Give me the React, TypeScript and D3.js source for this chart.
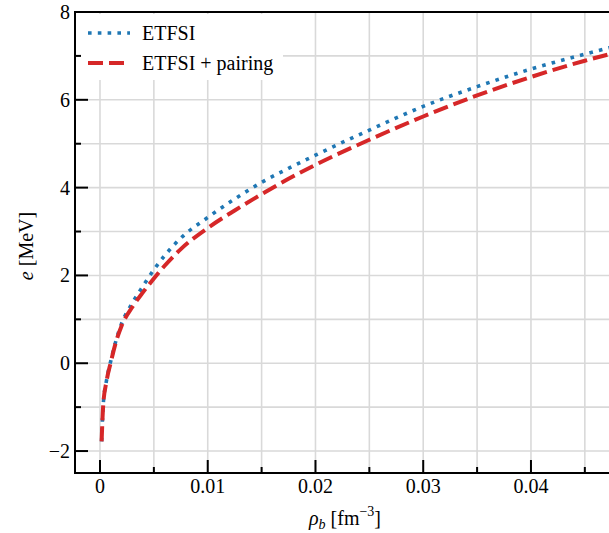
import React from 'react';
import * as d3 from 'd3';

// baryon density rho_b [fm^-3]
const rho = [0.00015, 0.0003, 0.0006, 0.001, 0.0015, 0.002, 0.003, 0.004, 0.005, 0.006, 0.0075, 0.01, 0.0125, 0.015, 0.0175, 0.02, 0.025, 0.03, 0.035, 0.04, 0.045, 0.0478];
// energy per nucleon e [MeV]
const eEtfsi = [-1.78, -0.94, -0.40, 0.05, 0.53, 0.90, 1.37, 1.76, 2.13, 2.45, 2.85, 3.32, 3.74, 4.12, 4.44, 4.74, 5.31, 5.85, 6.30, 6.70, 7.04, 7.22];
const eEtfsiPairing = [-1.78, -0.95, -0.42, 0.02, 0.50, 0.85, 1.28, 1.62, 1.93, 2.22, 2.60, 3.08, 3.48, 3.85, 4.20, 4.52, 5.09, 5.62, 6.10, 6.52, 6.89, 7.07];

const xMajor = [0, 0.01, 0.02, 0.03, 0.04];
const xMinor = [0.005, 0.015, 0.025, 0.035, 0.045];
const yMajor = [-2, 0, 2, 4, 6, 8];
const yMinor = [-1, 1, 3, 5, 7];

const W = 609;
const H = 533;
const FONT = "'Liberation Serif', 'Times New Roman', Times, Tinos, 'Nimbus Roman', 'Nimbus Roman No9 L', FreeSerif, 'Noto Serif', 'DejaVu Serif', Georgia, serif";

const App = () => {
  const left = 75, right = 615, top = 12, bottom = 473;

  const x = d3.scaleLinear().domain([-0.00232, 0.0478]).range([left, right]);
  const y = d3.scaleLinear().domain([-2.5, 8]).range([bottom, top]);

  const line = d3.line<number>()
    .x((_, i) => x(rho[i]))
    .y(d => y(d))
    .curve(d3.curveMonotoneX);

  const fmt = (v: number) => (v < 0 ? '\u2212' + Math.abs(v) : String(v));
  const ts = { fontFamily: FONT };

  return (
    <svg width={W} height={H} style={{ position: 'absolute', left: 0, top: 0, background: '#fff', fontFamily: FONT }}>
      <defs>
        <clipPath id="plotArea">
          <rect x={left} y={top} width={right - left} height={bottom - top} />
        </clipPath>
      </defs>

      {/* grid */}
      <g stroke="#d9d9d9" strokeWidth={1.6}>
        {[...xMajor, ...xMinor].map(v => (
          <line key={'gx' + v} x1={x(v)} x2={x(v)} y1={top} y2={bottom} />
        ))}
        {[...yMajor, ...yMinor].map(v => (
          <line key={'gy' + v} x1={left} x2={right} y1={y(v)} y2={y(v)} />
        ))}
      </g>

      {/* curves */}
      <g clipPath="url(#plotArea)" fill="none">
        <path d={line(eEtfsi) || ''} stroke="#1f77b4" strokeWidth={3.6} strokeDasharray="3.6,6.2" />
        <path d={line(eEtfsiPairing) || ''} stroke="#d62728" strokeWidth={4} strokeDasharray="15,6" />
      </g>

      {/* legend */}
      <g>
        <rect x={78} y={14} width={205} height={66} rx={3} fill="#fff" />
        <line x1={88} x2={130} y1={33} y2={33} stroke="#1f77b4" strokeWidth={3.6} strokeDasharray="3.6,6.2" />
        <line x1={88} x2={130} y1={63} y2={63} stroke="#d62728" strokeWidth={4} strokeDasharray="15,6" />
        <text x={142} y={40} fontSize={20} fill="#000" style={ts}>ETFSI</text>
        <text x={142} y={70} fontSize={20} fill="#000" style={ts}>ETFSI + pairing</text>
      </g>

      {/* spines */}
      <g stroke="#000" strokeWidth={2}>
        <line x1={left} x2={left} y1={top} y2={bottom + 1} />
        <line x1={left - 1} x2={right} y1={bottom} y2={bottom} />
        <line x1={left - 1} x2={right} y1={top} y2={top} />
      </g>

      {/* ticks */}
      <g stroke="#000" strokeWidth={2}>
        {xMajor.map(v => <line key={'tx' + v} x1={x(v)} x2={x(v)} y1={bottom} y2={bottom - 13} />)}
        {xMinor.map(v => <line key={'mx' + v} x1={x(v)} x2={x(v)} y1={bottom} y2={bottom - 6} />)}
        {yMajor.map(v => <line key={'ty' + v} x1={left} x2={left + 13} y1={y(v)} y2={y(v)} />)}
        {yMinor.map(v => <line key={'my' + v} x1={left} x2={left + 6} y1={y(v)} y2={y(v)} />)}
      </g>

      {/* tick labels */}
      <g fontSize={20} fill="#000">
        {xMajor.map(v => (
          <text key={'lx' + v} x={x(v)} y={493} textAnchor="middle" style={ts}>{String(v)}</text>
        ))}
        {yMajor.map(v => (
          <text key={'ly' + v} x={70} y={y(v) + 7} textAnchor="end" style={ts}>{fmt(v)}</text>
        ))}
      </g>

      {/* axis labels */}
      <text x={345} y={525} fontSize={20} textAnchor="middle" fill="#000" style={ts}>
        <tspan fontStyle="italic">ρ</tspan>
        <tspan fontStyle="italic" fontSize={14} dy={4}>b</tspan>
        <tspan dy={-4}> [fm</tspan>
        <tspan fontSize={14} dy={-9}>−3</tspan>
        <tspan dy={9}>]</tspan>
      </text>
      <text transform="translate(33,246) rotate(-90)" fontSize={20} textAnchor="middle" fill="#000" style={ts}>
        <tspan fontStyle="italic">e</tspan>
        <tspan> [MeV]</tspan>
      </text>
    </svg>
  );
};

export default App;
